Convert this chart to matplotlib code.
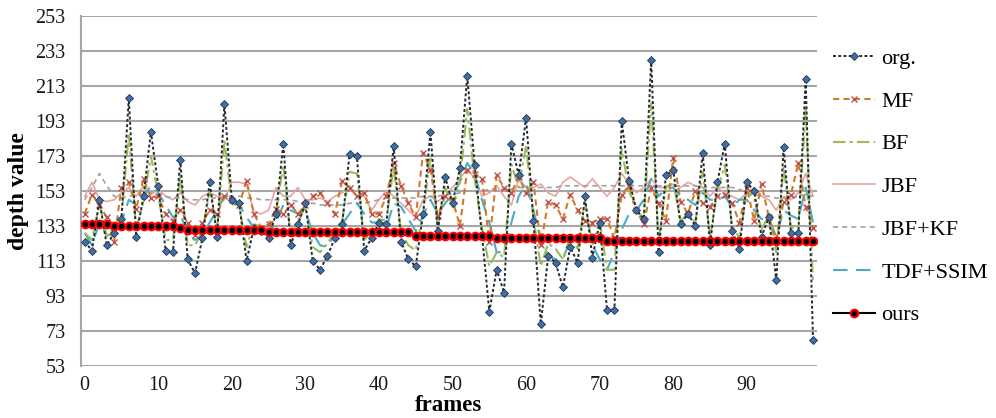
import matplotlib
matplotlib.use("Agg")
import matplotlib.pyplot as plt
import numpy as np

frames = list(range(100))

org = [124, 119, 148, 122, 129, 137, 206, 127, 150, 187,
       156, 119, 118, 171, 114, 106, 126, 158, 127, 203,
       148, 146, 113, 132, 130, 126, 140, 180, 122, 134,
       146, 113, 108, 116, 126, 134, 174, 173, 119, 126,
       135, 134, 179, 124, 114, 110, 140, 187, 130, 161,
       146, 166, 219, 168, 128, 84, 108, 95, 180, 162,
       195, 136, 77, 116, 112, 98, 121, 112, 150, 115,
       135, 85, 85, 193, 159, 142, 137, 228, 118, 162,
       165, 134, 140, 133, 175, 122, 158, 180, 130, 120,
       158, 153, 127, 138, 102, 178, 129, 129, 217, 68]

mf = [140, 151, 145, 138, 124, 155, 158, 143, 160, 149,
      150, 140, 136, 142, 135, 128, 135, 142, 140, 150,
      148, 145, 159, 140, 132, 134, 143, 140, 145, 140,
      145, 150, 152, 146, 140, 159, 155, 150, 152, 140,
      140, 150, 169, 156, 146, 138, 175, 165, 139, 150,
      148, 133, 165, 163, 160, 124, 162, 155, 152, 161,
      152, 158, 122, 147, 145, 137, 151, 142, 136, 135,
      137, 137, 126, 151, 156, 142, 134, 155, 146, 136,
      172, 147, 140, 153, 146, 144, 150, 151, 146, 135,
      155, 136, 157, 138, 125, 147, 151, 169, 144, 132]

bf = [129, 125, 146, 127, 132, 138, 186, 131, 147, 173,
      151, 125, 125, 162, 122, 122, 130, 153, 131, 182,
      146, 144, 121, 134, 133, 130, 140, 168, 127, 136,
      144, 121, 118, 123, 130, 136, 164, 163, 125, 130,
      137, 136, 167, 129, 122, 119, 140, 173, 133, 155,
      144, 158, 200, 160, 132, 110, 118, 115, 168, 155,
      179, 137, 110, 123, 120, 114, 127, 120, 147, 122,
      136, 108, 108, 177, 153, 141, 138, 203, 125, 155,
      158, 136, 140, 135, 164, 127, 153, 168, 133, 126,
      153, 149, 131, 139, 118, 167, 132, 132, 200, 100]

jbf = [150, 158, 148, 147, 148, 152, 155, 150, 156, 151,
       154, 150, 148, 152, 147, 145, 150, 152, 150, 148,
       158, 158, 157, 141, 140, 142, 155, 150, 150, 155,
       148, 148, 149, 147, 150, 152, 156, 150, 150, 142,
       148, 153, 150, 146, 142, 138, 148, 150, 147, 150,
       155, 160, 166, 160, 150, 152, 156, 150, 145, 160,
       155, 155, 157, 152, 150, 158, 161, 158, 155, 160,
       155, 150, 155, 163, 157, 152, 155, 160, 155, 155,
       157, 155, 158, 156, 155, 150, 155, 152, 150, 148,
       152, 155, 150, 148, 142, 150, 148, 152, 163, 150]

jbfkf = [148, 155, 163, 156, 150, 149, 150, 151, 151, 152,
         151, 150, 149, 149, 148, 148, 148, 149, 149, 150,
         150, 150, 149, 149, 148, 148, 148, 148, 148, 147,
         146, 146, 145, 145, 145, 145, 146, 146, 146, 147,
         148, 149, 149, 149, 149, 149, 150, 150, 150, 151,
         151, 152, 153, 153, 153, 154, 154, 154, 154, 155,
         155, 155, 155, 155, 155, 156, 156, 156, 156, 156,
         156, 156, 156, 156, 156, 156, 156, 156, 156, 156,
         156, 156, 156, 156, 155, 155, 155, 155, 155, 154,
         152, 151, 150, 150, 149, 149, 149, 150, 151, 150]

tdf = [129, 122, 135, 128, 128, 135, 148, 145, 150, 156,
       152, 145, 138, 140, 128, 125, 128, 135, 142, 150,
       150, 145, 138, 132, 130, 128, 135, 145, 142, 140,
       142, 129, 122, 121, 129, 134, 140, 146, 140, 135,
       135, 132, 146, 144, 137, 130, 139, 148, 140, 146,
       151, 158, 169, 163, 148, 135, 118, 118, 135, 150,
       157, 142, 125, 116, 114, 114, 125, 125, 125, 122,
       114, 108, 118, 131, 140, 142, 148, 160, 150, 154,
       155, 150, 148, 145, 152, 148, 148, 150, 144, 148,
       148, 142, 137, 137, 127, 142, 139, 137, 155, 135]

ours = [134, 134, 134, 134, 133, 133, 133, 133, 133, 133,
        133, 133, 133, 132, 130.5, 130.5, 130.5, 130.5, 130.5, 130.5,
        130.5, 130.5, 130.5, 130.5, 130.5, 129.5, 129.5, 129.5, 129.5, 129.5,
        129.5, 129.5, 129.5, 129.5, 129.5, 129.5, 129.5, 129.5, 129.5, 129.5,
        129.5, 129.5, 129.5, 129.5, 129.5, 127.5, 127.5, 127.5, 127.5, 127.5,
        127.5, 127.5, 127.5, 127.5, 127.5, 127.5, 126, 126, 126, 126,
        126, 126, 126, 126, 126, 126, 126, 126, 126, 126,
        126, 124.5, 124.5, 124.5, 124.5, 124.5, 124.5, 124.5, 124.5, 124.5,
        124.5, 124.5, 124.5, 124.5, 124.5, 124.5, 124.5, 124.5, 124.5, 124.5,
        124.5, 124.5, 124.5, 124.5, 124.5, 124.5, 124.5, 124.5, 124.5, 124.5]

xticks = [0, 10, 20, 30, 40, 50, 60, 70, 80, 90]
yticks = [53, 73, 93, 113, 133, 153, 173, 193, 213, 233, 253]

plt.rcParams['font.family'] = ['Liberation Serif', 'DejaVu Serif']

fig = plt.figure(figsize=(9.96, 4.18), dpi=100)
ax = fig.add_axes([0.0813, 0.1244, 0.7387, 0.8373])

grid_c = '#a6a6a6'
for yv in yticks:
    ax.axhline(yv, color=grid_c, lw=1.5, zorder=0)

h_jbf, = ax.plot(frames, jbf, color='#e8a3a3', lw=1.2, ls='-', zorder=2, label='JBF')
h_kf, = ax.plot(frames, jbfkf, color='#a0a0a0', lw=1.2, ls=(0, (3, 2.5)), zorder=2, label='JBF+KF')
h_tdf, = ax.plot(frames, tdf, color='#4bacc6', lw=1.5, ls=(0, (7, 4)), zorder=3, label='TDF+SSIM')
h_bf, = ax.plot(frames, bf, color='#9bbb59', lw=1.5, ls=(0, (6, 2, 1.5, 2)), zorder=3, label='BF')
h_mf, = ax.plot(frames, mf, color='#d4782a', lw=1.5, ls=(0, (3, 2)), marker='x',
                markersize=5, markeredgecolor='#c0504d', markeredgewidth=1.0, zorder=4, label='MF')
h_org, = ax.plot(frames, org, color='#222a35', lw=1.4, ls=(0, (1.5, 1.2)), marker='D',
                 markersize=4.2, markerfacecolor='#3f6fa6', markeredgecolor='#1f3550',
                 markeredgewidth=0.6, zorder=5, label='org.')
h_ours, = ax.plot(frames, ours, color='#000000', lw=1.5, ls='-', marker='o',
                  markersize=5.5, markerfacecolor='#000000', markeredgecolor='#ff0000',
                  markeredgewidth=1.5, zorder=6, label='ours')

ax.set_xlim(-0.5, 99.5)
ax.set_ylim(53, 253)
ax.set_xticks(xticks)
ax.set_yticks(yticks)
ax.tick_params(axis='both', length=0, labelsize=14.5, colors='#1a1a1a')
ax.tick_params(axis='x', pad=7)
ax.tick_params(axis='y', pad=11)
for s in ['top', 'right', 'bottom']:
    ax.spines[s].set_visible(False)
ax.spines['left'].set_color(grid_c)
ax.spines['left'].set_linewidth(1.5)

ax.set_xlabel('frames', fontsize=16.5, fontweight='bold', labelpad=0)
ax.set_ylabel('depth value', fontsize=17, fontweight='bold', labelpad=5)

handles = [h_org, h_mf, h_bf, h_jbf, h_kf, h_tdf, h_ours]
leg = fig.legend(handles, [h.get_label() for h in handles], loc='center left',
                 bbox_to_anchor=(0.836, 0.553), frameon=False, fontsize=16,
                 borderpad=0, borderaxespad=0,
                 labelspacing=1.0, handlelength=1.9, handletextpad=0.3)

fig.savefig('out.png', dpi=100)
